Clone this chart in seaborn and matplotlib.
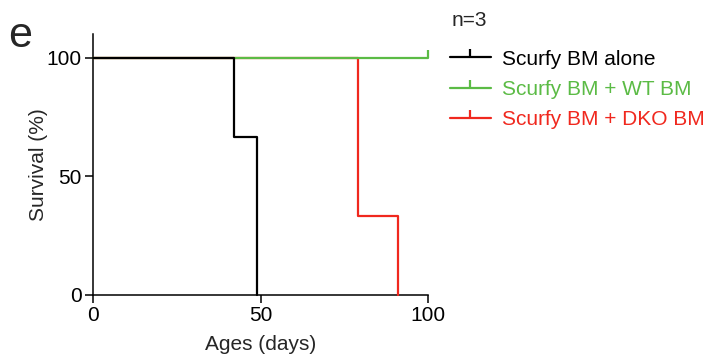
import matplotlib
matplotlib.use("Agg")
import matplotlib.pyplot as plt
from matplotlib.lines import Line2D
import numpy as np
import pandas as pd
import seaborn as sns

# Kaplan-Meier steps: event times (days) and survival (%) after each event
groups = ["Scurfy BM alone", "Scurfy BM + WT BM", "Scurfy BM + DKO BM"]
alone_days = [0, 42, 49]
alone_surv = [100, 66.67, 0]
wt_days = [0, 100]
wt_surv = [100, 100]
dko_days = [0, 79, 91]
dko_surv = [100, 33.33, 0]
censor_days = [None, 100, None]
censor_surv = [None, 100, None]
colors = ["#000000", "#5bbb45", "#f0281e"]
x_ticks = [0, 50, 100]
y_ticks = [0, 50, 100]

sns.set_style("ticks")
plt.rcParams["font.family"] = ["Liberation Sans", "DejaVu Sans"]

frames = []
for g, d, s in zip(groups, [alone_days, wt_days, dko_days],
                   [alone_surv, wt_surv, dko_surv]):
    frames.append(pd.DataFrame({"group": g, "day": d, "surv": s}))
df = pd.concat(frames, ignore_index=True)

fig = plt.figure(figsize=(7.10, 3.54), dpi=100)
ax = fig.add_axes([0.131, 0.1667, 0.472, 0.737])

# draw red, then green, then black on top
for idx in [2, 1, 0]:
    sub = df[df["group"] == groups[idx]]
    sns.lineplot(data=sub, x="day", y="surv", ax=ax, color=colors[idx],
                 drawstyle="steps-post", lw=1.6, estimator=None, sort=False,
                 zorder=3 + (2 - idx), clip_on=False)
    if censor_days[idx] is not None:
        ax.plot([censor_days[idx]], [censor_surv[idx]], marker=2, ms=6,
                mew=1.6, color=colors[idx], clip_on=False, zorder=5)

ax.set_xlim(0, 100)
ax.set_ylim(0, 110)
ax.set_xticks(x_ticks)
ax.set_yticks(y_ticks)
ax.set_xticklabels([str(t) for t in x_ticks])
ax.set_yticklabels([str(t) for t in y_ticks])
ax.tick_params(axis="both", direction="out", length=6, width=1.1,
               labelsize=15, pad=2, colors="black")
for side in ["top", "right"]:
    ax.spines[side].set_visible(False)
for side in ["left", "bottom"]:
    ax.spines[side].set_linewidth(1.1)
    ax.spines[side].set_color("black")
ax.set_xlabel("Ages (days)", fontsize=15, labelpad=7)
ax.set_ylabel("Survival (%)", fontsize=15, labelpad=-1)

handles = [Line2D([0], [0], color=c, lw=1.6, marker=2, ms=6, mew=1.6)
           for c in colors]
leg = fig.legend(handles, groups, loc="upper left",
                 bbox_to_anchor=(0.634, 0.86), frameon=False,
                 borderpad=0, borderaxespad=0, fontsize=15,
                 handlelength=1.95, handletextpad=0.55, labelspacing=0.55,
                 labelcolor="linecolor")
fig.text(0.636, 0.943, "n=3", fontsize=15, va="center", ha="left")

fig.text(0.012, 0.955, "e", fontsize=31, va="top", ha="left")

fig.savefig("out.png", dpi=100)
